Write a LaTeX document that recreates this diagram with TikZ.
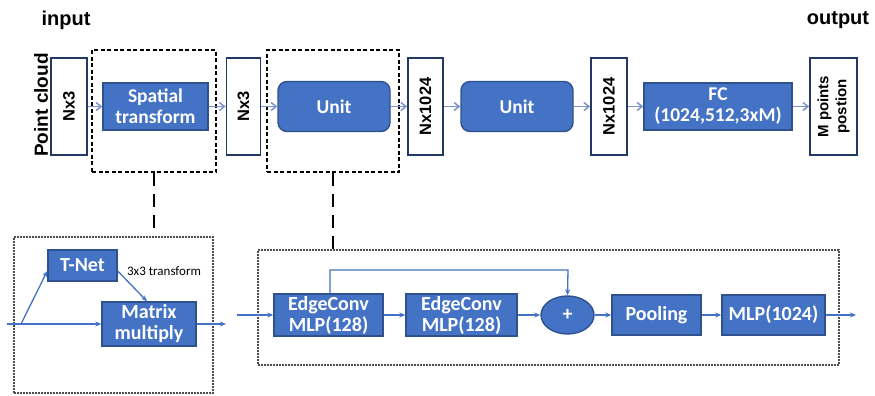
\documentclass[tikz,border=0pt]{standalone}
\usepackage{fontspec}
\setmainfont{Carlito}
\newfontfamily\arialfam{Liberation Sans}
\usepackage{xcolor}
\usetikzlibrary{arrows.meta,positioning,shapes.geometric}
\definecolor{azul}{HTML}{4472C4}
\definecolor{azulEscuro}{HTML}{2F528F}
\definecolor{azulSeta}{HTML}{7A93C8}
\tikzset{
    camada/.style={
        rectangle,
        draw=azulEscuro,
        line width=1.4pt,
        fill=azul,
        text=white,
        align=center,
        inner sep=0pt,
        font=\bfseries\fontsize{19.5}{21}\selectfont
    },
    unidade/.style={camada, rounded corners=9pt},
    bloco/.style={camada, font=\bfseries\fontsize{20}{21}\selectfont},
    tensor/.style={
        rectangle,
        draw=azulEscuro!70!black,
        line width=1.8pt,
        fill=white,
        rotate=90,
        align=center,
        inner sep=0pt,
        minimum width=97pt,
        font=\arialfam\bfseries\fontsize{16.5}{18}\selectfont
    },
    rotulo/.style={font=\arialfam\bfseries\fontsize{20}{22}\selectfont},
    fluxo/.style={-{Straight Barb[length=5pt, width=8pt]}, draw=azulSeta, line width=1.5pt},
    fluxoInterno/.style={-{Stealth[length=6pt, width=5pt]}, draw=azul, line width=1.3pt},
    grupoTracejado/.style={draw, line width=1.8pt, dash pattern=on 4pt off 2.5pt, inner sep=0pt},
    grupoPontilhado/.style={draw=black!70, line width=2.2pt, dash pattern=on 1.6pt off 1.4pt, inner sep=0pt},
    ligacao/.style={line width=2pt, dash pattern=on 13pt off 8pt}
}

\begin{document}
\begin{tikzpicture}[x=1pt, y=-1pt]
    \useasboundingbox (0,0) rectangle (875,396);
    % linha de cima
    \node[rotulo] (input) at (66,20) {input};
    \node[rotulo] (output) at (838,20) {output};
    \node[rotulo, rotate=90, font=\arialfam\bfseries\fontsize{19}{21}\selectfont] (nuvem) at (41,105) {Point cloud};
    \node[tensor, minimum height=36pt] (nx3a) at (69,106.5) {Nx3};
    \node[grupoTracejado, minimum width=124pt, minimum height=122pt] (grupoST) at (154,111) {};
    \node[camada, minimum width=105pt, minimum height=47pt] (spatial) at (155.5,106.5) {Spatial\\transform};
    \node[tensor, minimum height=34pt] (nx3b) at (243.5,106.5) {Nx3};
    \node[grupoTracejado, minimum width=132pt, minimum height=122pt] (grupoUnit) at (333,111) {};
    \node[unidade, minimum width=112pt, minimum height=50pt] (unit1) at (334,106.5) {Unit};
    \node[tensor, minimum height=35pt] (nx1024a) at (425.5,106.5) {Nx1024};
    \node[unidade, minimum width=112pt, minimum height=50pt] (unit2) at (517,106.5) {Unit};
    \node[tensor, minimum height=36pt] (nx1024b) at (609,106.5) {Nx1024};
    \node[camada, minimum width=148pt, minimum height=47pt] (fc) at (718,106.5) {FC\\(1024,512,3xM)};
    \node[tensor, minimum height=47pt, font=\arialfam\bfseries\fontsize{15}{18}\selectfont] (saida) at (833.5,106.5) {M points\\postion};
    \draw[fluxo] (nx3a) -- (spatial);
    \draw[fluxo] (spatial) -- (nx3b);
    \draw[fluxo] (nx3b) -- (unit1);
    \draw[fluxo] (unit1) -- (nx1024a);
    \draw[fluxo] (nx1024a) -- (unit2);
    \draw[fluxo] (unit2) -- (nx1024b);
    \draw[fluxo] (nx1024b) -- (fc);
    \draw[fluxo] (fc) -- (saida);
    % detalhe da transformacao espacial
    \node[grupoPontilhado, minimum width=199pt, minimum height=156pt] (detalheST) at (113.5,315) {};
    \node[bloco, minimum width=69pt, minimum height=31pt] (tnet) at (82.5,265.5) {T-Net};
    \node[bloco, minimum width=94pt, minimum height=44pt] (matriz) at (149,324) {Matrix\\multiply};
    \node[font=\fontsize{13}{14}\selectfont] (transf) at (164,271) {3x3 transform};
    \coordinate (entradaST) at (7,324);
    \coordinate (ramo) at (21,324);
    \coordinate (saidaST) at (226,324);
    \draw[fluxoInterno] (entradaST) -- (matriz);
    \draw[fluxoInterno] (ramo) -- (tnet.south west |- 0,271);
    \draw[fluxoInterno] (tnet.south east |- 0,271) -- (matriz.north west -| 147,0);
    \draw[fluxoInterno] (matriz) -- (saidaST);
    % detalhe da unidade
    \node[grupoPontilhado, minimum width=581pt, minimum height=115pt] (detalheUnit) at (548.5,307.5) {};
    \node[bloco, minimum width=109pt, minimum height=42pt] (ec1) at (328.5,315) {EdgeConv\\MLP(128)};
    \node[bloco, minimum width=111pt, minimum height=42pt] (ec2) at (461.5,315) {EdgeConv\\MLP(128)};
    \node[bloco, ellipse, minimum width=53pt, minimum height=38pt] (soma) at (567.5,315) {+};
    \node[bloco, minimum width=89pt, minimum height=40pt] (pool) at (656.5,315) {Pooling};
    \node[bloco, minimum width=103pt, minimum height=40pt] (mlp) at (773.5,315) {MLP(1024)};
    \coordinate (entradaUnit) at (237,315);
    \coordinate (saidaUnit) at (856,315);
    \draw[fluxoInterno] (entradaUnit) -- (ec1);
    \draw[fluxoInterno] (ec1) -- (ec2);
    \draw[fluxoInterno] (ec2) -- (soma);
    \draw[fluxoInterno] (soma) -- (pool);
    \draw[fluxoInterno] (pool) -- (mlp);
    \draw[fluxoInterno] (mlp) -- (saidaUnit);
    \draw[fluxoInterno] (ec1.north -| 330,0) |- (568,270) -- (soma.north);
    % ligacoes tracejadas
    \draw[ligacao] (grupoST.south) -- (grupoST.south |- detalheST.north);
    \draw[ligacao] (grupoUnit.south) -- (grupoUnit.south |- detalheUnit.north);
\end{tikzpicture}
\end{document}
